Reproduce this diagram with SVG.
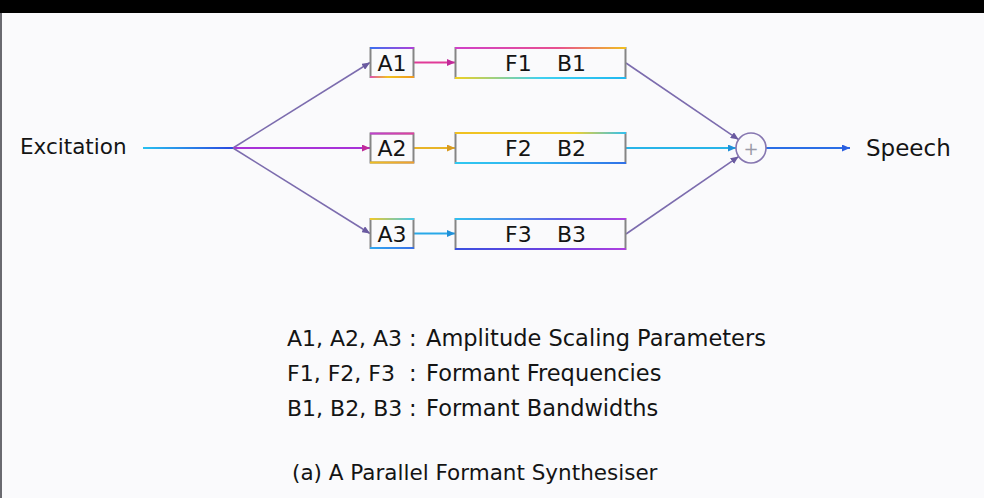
<svg xmlns="http://www.w3.org/2000/svg" width="984" height="498" viewBox="0 0 984 498">
  <defs>
    <style>
      .lbl { font-family: "DejaVu Sans", "Liberation Sans", sans-serif; fill: #141414; }
      .box { fill: none; stroke: #858585; stroke-width: 2; }
      .wire { fill: none; stroke-width: 2; }
      .diag { fill: none; stroke: #7c6cae; stroke-width: 1.6; }
      .sum { fill: none; stroke: #8676b0; stroke-width: 1.6; }
    </style>
    <marker id="ah-gray" markerWidth="9" markerHeight="7" refX="8" refY="3.5" orient="auto" markerUnits="userSpaceOnUse">
      <path d="M0,0 L8,3.5 L0,7 Z" fill="#6a5aa0"/>
    </marker>
    <marker id="ah-mag" markerWidth="9" markerHeight="7" refX="8" refY="3.5" orient="auto" markerUnits="userSpaceOnUse">
      <path d="M0,0 L8,3.5 L0,7 Z" fill="#c02a9a"/>
    </marker>
    <marker id="ah-yel" markerWidth="9" markerHeight="7" refX="8" refY="3.5" orient="auto" markerUnits="userSpaceOnUse">
      <path d="M0,0 L8,3.5 L0,7 Z" fill="#d89a20"/>
    </marker>
    <marker id="ah-cyan" markerWidth="9" markerHeight="7" refX="8" refY="3.5" orient="auto" markerUnits="userSpaceOnUse">
      <path d="M0,0 L8,3.5 L0,7 Z" fill="#2090d8"/>
    </marker>
    <marker id="ah-blue" markerWidth="9" markerHeight="7" refX="8" refY="3.5" orient="auto" markerUnits="userSpaceOnUse">
      <path d="M0,0 L8,3.5 L0,7 Z" fill="#2a5ee0"/>
    </marker>
    <linearGradient id="g-exc" gradientUnits="userSpaceOnUse" x1="143" y1="148" x2="233" y2="148">
      <stop offset="0" stop-color="#28c0f0"/>
      <stop offset="1" stop-color="#2a48e0"/>
    </linearGradient>
    <linearGradient id="g-a1t" x1="0" x2="1"><stop offset="0" stop-color="#3a70f0"/><stop offset="1" stop-color="#b040d8"/></linearGradient>
    <linearGradient id="g-a1b" x1="0" x2="1"><stop offset="0" stop-color="#e050b0"/><stop offset="0.4" stop-color="#f0c020"/><stop offset="1" stop-color="#f09a20"/></linearGradient>
    <linearGradient id="g-f1t" x1="0" x2="1"><stop offset="0" stop-color="#d040c8"/><stop offset="0.6" stop-color="#e85090"/><stop offset="1" stop-color="#f0c020"/></linearGradient>
    <linearGradient id="g-f1b" x1="0" x2="1"><stop offset="0" stop-color="#f0d020"/><stop offset="0.5" stop-color="#40d0f0"/><stop offset="1" stop-color="#20b8f0"/></linearGradient>
    <linearGradient id="g-a2t" x1="0" x2="1"><stop offset="0" stop-color="#c040d0"/><stop offset="1" stop-color="#e040a0"/></linearGradient>
    <linearGradient id="g-a2b" x1="0" x2="1"><stop offset="0" stop-color="#f0c020"/><stop offset="1" stop-color="#f0a030"/></linearGradient>
    <linearGradient id="g-f2t" x1="0" x2="1"><stop offset="0" stop-color="#f0c020"/><stop offset="0.7" stop-color="#f0d030"/><stop offset="1" stop-color="#30c0f0"/></linearGradient>
    <linearGradient id="g-f2b" x1="0" x2="1"><stop offset="0" stop-color="#30c8f0"/><stop offset="0.5" stop-color="#30b0f0"/><stop offset="1" stop-color="#3070e8"/></linearGradient>
    <linearGradient id="g-a3t" x1="0" x2="1"><stop offset="0" stop-color="#f0c828"/><stop offset="1" stop-color="#40c8f0"/></linearGradient>
    <linearGradient id="g-a3b" x1="0" x2="1"><stop offset="0" stop-color="#30a8f0"/><stop offset="1" stop-color="#3a70e8"/></linearGradient>
    <linearGradient id="g-f3t" x1="0" x2="1"><stop offset="0" stop-color="#30c0f0"/><stop offset="0.6" stop-color="#6060e8"/><stop offset="1" stop-color="#b040e0"/></linearGradient>
    <linearGradient id="g-f3b" x1="0" x2="1"><stop offset="0" stop-color="#3a50e0"/><stop offset="0.6" stop-color="#7040e0"/><stop offset="1" stop-color="#b040e0"/></linearGradient>
  </defs>

  <!-- page -->
  <rect x="0" y="0" width="984" height="498" fill="#fafafc"/>
  <rect x="0" y="0" width="984" height="13" fill="#000"/>
  <rect x="0" y="13" width="2" height="485" fill="#6a6a70"/>

  <!-- connectors -->
  <g id="connectors">
    <line class="wire" x1="143" y1="148" x2="233" y2="148" stroke="url(#g-exc)"/>
    <line class="diag" x1="233" y1="148" x2="370" y2="62.5" marker-end="url(#ah-gray)"/>
    <line class="wire" x1="233" y1="148" x2="370" y2="148" stroke="#a832d8" marker-end="url(#ah-mag)"/>
    <line class="diag" x1="233" y1="148" x2="370" y2="233.5" marker-end="url(#ah-gray)"/>

    <line class="wire" x1="414" y1="62.5" x2="455" y2="62.5" stroke="#e03a98" marker-end="url(#ah-mag)"/>
    <line class="wire" x1="414" y1="148" x2="455" y2="148" stroke="#e8b428" marker-end="url(#ah-yel)"/>
    <line class="wire" x1="414" y1="233.5" x2="455" y2="233.5" stroke="#28a8e8" marker-end="url(#ah-cyan)"/>

    <line class="diag" x1="626" y1="63" x2="738.6" y2="139.6" marker-end="url(#ah-gray)"/>
    <line class="wire" x1="626" y1="148" x2="736" y2="148" stroke="#28b4e8" marker-end="url(#ah-cyan)"/>
    <line class="diag" x1="626" y1="234" x2="738.6" y2="156.6" marker-end="url(#ah-gray)"/>

    <line class="wire" x1="766" y1="148" x2="850" y2="148" stroke="#2a6ee6" marker-end="url(#ah-blue)"/>
  </g>

  <!-- input / output labels -->
  <g id="excitation">
    <text class="lbl" x="20" y="154" font-size="21.5">Excitation</text>
  </g>
  <g id="speech">
    <text class="lbl" x="866" y="156" font-size="23">Speech</text>
  </g>

  <!-- amplitude scaling boxes -->
  <g id="a1">
    <rect class="box" x="370.5" y="48" width="43" height="29"/>
    <rect x="370" y="47" width="44" height="2" fill="url(#g-a1t)"/>
    <rect x="370" y="76" width="44" height="2" fill="url(#g-a1b)"/>
    <text class="lbl" x="392" y="70.5" font-size="22" text-anchor="middle">A1</text>
  </g>
  <g id="a2">
    <rect class="box" x="370.5" y="133.5" width="43" height="29"/>
    <rect x="370" y="132.5" width="44" height="2" fill="url(#g-a2t)"/>
    <rect x="370" y="161.5" width="44" height="2" fill="url(#g-a2b)"/>
    <text class="lbl" x="392" y="156" font-size="22" text-anchor="middle">A2</text>
  </g>
  <g id="a3">
    <rect class="box" x="370.5" y="219" width="43" height="29"/>
    <rect x="370" y="218" width="44" height="2" fill="url(#g-a3t)"/>
    <rect x="370" y="247" width="44" height="2" fill="url(#g-a3b)"/>
    <text class="lbl" x="392" y="241.5" font-size="22" text-anchor="middle">A3</text>
  </g>

  <!-- formant filter boxes -->
  <g id="f1">
    <rect class="box" x="455.5" y="48" width="170" height="30"/>
    <rect x="455" y="47" width="171" height="2" fill="url(#g-f1t)"/>
    <rect x="455" y="77" width="171" height="2" fill="url(#g-f1b)"/>
    <text class="lbl" x="505" y="71" font-size="22">F1</text>
    <text class="lbl" x="557" y="71" font-size="22">B1</text>
  </g>
  <g id="f2">
    <rect class="box" x="455.5" y="133" width="170" height="30"/>
    <rect x="455" y="132" width="171" height="2" fill="url(#g-f2t)"/>
    <rect x="455" y="162" width="171" height="2" fill="url(#g-f2b)"/>
    <text class="lbl" x="505" y="156" font-size="22">F2</text>
    <text class="lbl" x="557" y="156" font-size="22">B2</text>
  </g>
  <g id="f3">
    <rect class="box" x="455.5" y="219" width="170" height="30"/>
    <rect x="455" y="218" width="171" height="2" fill="url(#g-f3t)"/>
    <rect x="455" y="248" width="171" height="2" fill="url(#g-f3b)"/>
    <text class="lbl" x="505" y="242" font-size="22">F3</text>
    <text class="lbl" x="557" y="242" font-size="22">B3</text>
  </g>

  <!-- summing junction -->
  <g id="sum">
    <circle class="sum" cx="751" cy="148" r="15"/>
    <text x="751" y="154.5" font-family="DejaVu Sans, sans-serif" font-size="18" fill="#9a9aa8" text-anchor="middle">+</text>
  </g>

  <!-- legend: symbol names, aligned colon, description -->
  <g id="legend" class="lbl" font-size="22.5">
    <text y="346"><tspan x="287" font-size="22">A1, A2, A3</tspan><tspan x="409">:</tspan><tspan x="426">Amplitude Scaling Parameters</tspan></text>
    <text y="381"><tspan x="287" font-size="22">F1, F2, F3</tspan><tspan x="409">:</tspan><tspan x="426">Formant Frequencies</tspan></text>
    <text y="416"><tspan x="287" font-size="22">B1, B2, B3</tspan><tspan x="409">:</tspan><tspan x="426">Formant Bandwidths</tspan></text>
  </g>

  <!-- caption -->
  <g id="caption">
    <text class="lbl" x="292" y="480" font-size="21.5" fill="#222">(a) A Parallel Formant Synthesiser</text>
  </g>
</svg>
